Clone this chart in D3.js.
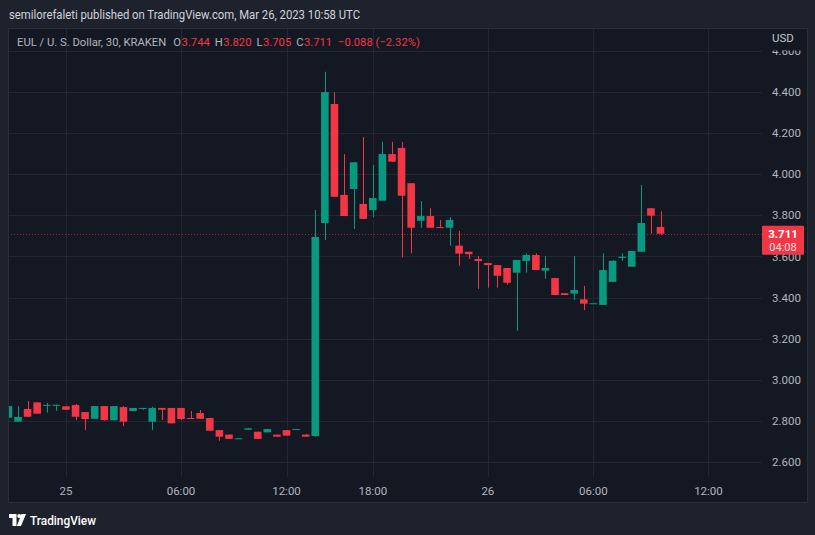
<!DOCTYPE html>
<html><head><meta charset="utf-8">
<script src="https://cdn.jsdelivr.net/npm/d3@7"></script>
<style>html,body{margin:0;padding:0;background:#1e222d;}svg{display:block;}</style>
</head><body>
<svg id="c" width="815" height="535"></svg>
<script>
// 30-minute candles, EUL/USD KRAKEN
const opens  = [2.814,2.795,2.857,2.889,2.874,2.874,2.870,2.876,2.842,2.809,2.871,2.802,2.866,2.847,2.859,2.795,2.862,2.862,2.862,2.813,2.837,2.813,2.754,2.732,2.712,2.756,2.746,2.743,2.732,2.754,2.757,2.732,2.725,
                3.763,4.343,3.900,3.929,3.856,3.826,3.872,4.099,4.129,3.957,3.774,3.797,3.743,3.740,3.653,3.623,3.588,3.568,3.558,3.544,3.521,3.578,3.607,3.531,3.495,3.421,3.419,3.391,3.370,3.364,3.476,3.593,3.550,3.623,3.835,3.744];
const highs  = [2.873,2.871,2.896,2.889,2.886,2.879,2.871,2.881,2.842,2.871,2.871,2.871,2.871,2.862,2.862,2.868,2.862,2.862,2.862,2.847,2.852,2.813,2.754,2.732,2.716,2.765,2.746,2.759,2.732,2.754,2.760,2.736,3.826,
                4.500,4.400,4.099,4.059,4.182,4.046,4.159,4.159,4.158,3.957,3.870,3.835,3.778,3.792,3.724,3.623,3.602,3.568,3.558,3.544,3.583,3.615,3.615,3.602,3.495,3.421,3.602,3.456,3.373,3.615,3.583,3.615,3.627,3.948,3.835,3.820];
const lows   = [2.814,2.795,2.819,2.834,2.839,2.848,2.853,2.803,2.754,2.809,2.800,2.802,2.774,2.847,2.853,2.754,2.803,2.787,2.803,2.808,2.809,2.751,2.702,2.711,2.712,2.756,2.711,2.743,2.722,2.727,2.757,2.722,2.722,
                3.680,3.891,3.797,3.734,3.783,3.791,3.872,4.062,3.596,3.615,3.740,3.740,3.740,3.653,3.555,3.588,3.442,3.448,3.448,3.464,3.238,3.521,3.534,3.492,3.412,3.412,3.388,3.339,3.369,3.364,3.476,3.579,3.550,3.623,3.711,3.705];
const closes = [2.871,2.818,2.819,2.834,2.877,2.877,2.853,2.819,2.808,2.871,2.803,2.871,2.795,2.862,2.862,2.862,2.853,2.787,2.808,2.808,2.809,2.751,2.722,2.711,2.714,2.763,2.711,2.759,2.722,2.727,2.759,2.722,3.695,
                4.401,3.891,3.797,4.059,3.783,3.885,4.099,4.062,3.896,3.740,3.797,3.740,3.741,3.778,3.614,3.611,3.578,3.558,3.506,3.472,3.583,3.607,3.534,3.544,3.412,3.412,3.437,3.370,3.372,3.534,3.579,3.599,3.627,3.763,3.799,3.711];
const timeTickIndex  = [6, 18, 29, 38, 50, 61, 73];
const timeTickLabels = ["25", "06:00", "12:00", "18:00", "26", "06:00", "12:00"];
const priceTicks = [2.6, 2.8, 3.0, 3.2, 3.4, 3.6, 3.8, 4.0, 4.2, 4.4, 4.6];
const lastPrice = 3.711;
const countdown = "04:08";
const headerText = "semilorefaleti published on TradingView.com, Mar 26, 2023 10:58 UTC";
const legendTexts  = ["EUL / U. S. Dollar, 30, KRAKEN", "O", "3.744", "H", "3.820", "L", "3.705", "C", "3.711", "\u22120.088 (\u22122.32%)"];
const legendColors = ["g", "g", "r", "g", "r", "g", "r", "g", "r", "r"];

const GREEN = "#089981", RED = "#f23645";
const svg = d3.select("#c");
const font = "Roboto, 'Noto Sans', sans-serif";

// pane
const pane = {l: 8, t: 28, r: 808, b: 503};
const plotR = 762, plotB = 477;
svg.append("rect").attr("x", 0).attr("y", 0).attr("width", 815).attr("height", 535).attr("fill", "#1e222d");
svg.append("rect").attr("x", pane.l + 0.5).attr("y", pane.t + 0.5).attr("width", pane.r - pane.l - 1).attr("height", pane.b - pane.t - 1)
  .attr("fill", "#141823").attr("stroke", "#2a2e39").attr("stroke-width", 1);

const x = d3.scaleLinear().domain([0, 68]).range([8.4, 660.5]);
const y = d3.scaleLinear().domain([2.6, 4.4]).range([461.7, 92.3]);
const ly = y(lastPrice);
const boxTop = ly - 8, boxH = 29;

const defs = svg.append("defs");
defs.append("clipPath").attr("id", "plotclip").append("rect")
  .attr("x", pane.l + 1).attr("y", pane.t + 1).attr("width", plotR - pane.l - 1).attr("height", plotB - pane.t - 1);
defs.append("clipPath").attr("id", "axclip").append("rect")
  .attr("x", plotR).attr("y", 50.5).attr("width", 50).attr("height", 427);

const grid = svg.append("g").attr("clip-path", "url(#plotclip)");
priceTicks.forEach(p => {
  const yy = Math.round(y(p)) + 0.5;
  grid.append("line").attr("x1", pane.l).attr("x2", plotR).attr("y1", yy).attr("y2", yy).attr("stroke", "#232734").attr("stroke-width", 1);
});
timeTickIndex.forEach(i => {
  const xx = Math.round(x(i)) + 0.5;
  grid.append("line").attr("x1", xx).attr("x2", xx).attr("y1", pane.t).attr("y2", plotB).attr("stroke", "#232734").attr("stroke-width", 1);
});

// last price dotted line
grid.append("line").attr("x1", pane.l).attr("x2", plotR).attr("y1", Math.round(ly) + 0.5).attr("y2", Math.round(ly) + 0.5)
  .attr("stroke", RED).attr("stroke-opacity", 0.55).attr("stroke-dasharray", "1,2");

// candles
const bw = 7.6;
const cg = grid.append("g");
opens.forEach((o, i) => {
  const c = closes[i], col = c >= o ? GREEN : RED;
  const xc = x(i), wx = Math.round(xc) + 0.5;
  cg.append("line").attr("x1", wx).attr("x2", wx).attr("y1", y(highs[i])).attr("y2", y(lows[i])).attr("stroke", col).attr("stroke-width", 1);
  const top = y(Math.max(o, c)), bot = y(Math.min(o, c));
  cg.append("rect").attr("x", xc - bw / 2).attr("y", top).attr("width", bw).attr("height", Math.max(1, bot - top)).attr("fill", col);
});

// price axis labels (3.600 sits partly under the last-price box, as in the original)
const ax = svg.append("g").attr("clip-path", "url(#axclip)");
priceTicks.forEach(p => {
  ax.append("text").attr("x", 772).attr("y", y(p)).attr("dy", "0.35em").attr("fill", "#b2b5be")
    .attr("font-family", font).attr("font-size", 11.5).text(d3.format(".3f")(p));
});
svg.append("text").attr("x", 772).attr("y", 38).attr("dy", "0.35em").attr("fill", "#c3c6ce").attr("font-family", font).attr("font-size", 11.5).text("USD");

// last price box
svg.append("rect").attr("x", 762).attr("y", boxTop).attr("width", 42).attr("height", boxH).attr("fill", RED).attr("rx", 1);
svg.append("text").attr("x", 783).attr("y", ly).attr("dy", "0.35em").attr("text-anchor", "middle").attr("fill", "#ffffff")
  .attr("font-family", font).attr("font-size", 11.5).attr("font-weight", "bold").text(d3.format(".3f")(lastPrice));
svg.append("text").attr("x", 783).attr("y", ly + 13.5).attr("dy", "0.35em").attr("text-anchor", "middle").attr("fill", "#ffffff").attr("fill-opacity", 0.85)
  .attr("font-family", font).attr("font-size", 11).text(countdown);

// time axis labels
timeTickIndex.forEach((i, k) => {
  svg.append("text").attr("x", x(i)).attr("y", 491).attr("dy", "0.35em").attr("text-anchor", "middle").attr("fill", "#b2b5be")
    .attr("font-family", font).attr("font-size", 11.5).text(timeTickLabels[k]);
});

// header
svg.append("text").attr("x", 9).attr("y", 15).attr("dy", "0.35em").attr("fill", "#d1d4dc").attr("font-family", font).attr("font-size", 12.5)
  .attr("textLength", 351).attr("lengthAdjust", "spacingAndGlyphs").text(headerText);

// legend: parts laid out left to right, scaled to the original's overall width
const lgGroup = svg.append("g");
const gaps = [0, 7, 0.5, 5, 0.5, 5, 0.5, 5, 0.5, 6];
let lx = 0;
legendTexts.forEach((t, k) => {
  lx += gaps[k];
  const el = lgGroup.append("text").attr("x", lx).attr("y", 0).attr("dy", "0.35em").attr("font-family", font).attr("font-size", 11.5)
    .attr("fill", legendColors[k] === "r" ? RED : "#b2b5be").text(t);
  lx += el.node().getComputedTextLength();
});
const sx = 403 / lx;
lgGroup.attr("transform", `translate(17,42) scale(${sx},1)`);

// TradingView logo
const logo = svg.append("g").attr("fill", "#ffffff");
logo.append("path").attr("d", "M9,514 H16.5 V526 H12.5 V518 H9 Z");
logo.append("circle").attr("cx", 19.2).attr("cy", 516).attr("r", 2);
logo.append("path").attr("d", "M21.5,514 H26 L21,526 H16.8 Z");
svg.append("text").attr("x", 30).attr("y", 520.5).attr("dy", "0.35em").attr("fill", "#ffffff").attr("font-family", font).attr("font-size", 13)
  .attr("font-weight", 500).attr("textLength", 66).attr("lengthAdjust", "spacingAndGlyphs").text("TradingView");
</script>
</body></html>
